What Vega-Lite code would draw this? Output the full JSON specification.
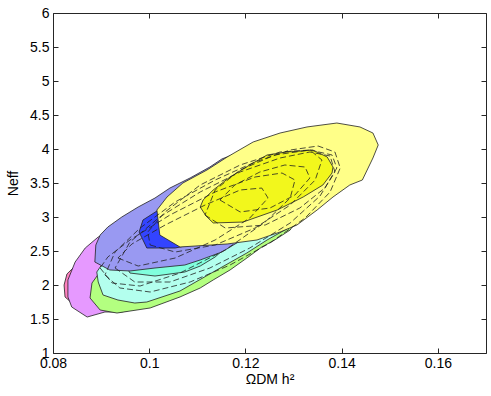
{
 "$schema": "https://vega.github.io/schema/vega-lite/v6.json",
 "width": 433, "height": 340,
 "autosize": {"type": "none"},
 "padding": {"left": 53, "top": 13, "right": 5, "bottom": 43},
 "config": {
  "view": {"stroke": "#262626", "strokeWidth": 1},
  "axis": {"grid": false, "domain": false, "tickColor": "#262626", "tickSize": -5, "labelFont": "Liberation Sans", "labelFontSize": 14, "labelColor": "#000", "titleFont": "Liberation Sans", "titleFontSize": 14, "titleFontWeight": "normal", "titleColor": "#000", "labelOverlap": false, "labelFlush": false}
 },
 "resolve": {"axis": {"x": "independent", "y": "independent"}},
 "datasets": {"p": [
  {"g":"R95","i":0,"x":0.0829,"y":2.162},{"g":"R95","i":1,"x":0.0823,"y":2.0},{"g":"R95","i":2,"x":0.0825,"y":1.824},{"g":"R95","i":3,"x":0.0837,"y":1.75},{"g":"R95","i":4,"x":0.0877,"y":1.779},{"g":"R95","i":5,"x":0.1002,"y":2.074},{"g":"R95","i":6,"x":0.1106,"y":2.441},{"g":"R95","i":7,"x":0.1147,"y":2.735},{"g":"R95","i":8,"x":0.1106,"y":2.882},{"g":"R95","i":9,"x":0.1002,"y":2.662},{"g":"R95","i":10,"x":0.0898,"y":2.441},{"g":"R95","i":11,"x":0.0846,"y":2.279},{"g":"R95","i":12,"x":0.0829,"y":2.162},
  {"g":"M95","i":0,"x":0.0894,"y":2.706},{"g":"M95","i":1,"x":0.0867,"y":2.544},{"g":"M95","i":2,"x":0.0846,"y":2.338},{"g":"M95","i":3,"x":0.0831,"y":2.074},{"g":"M95","i":4,"x":0.0831,"y":1.824},{"g":"M95","i":5,"x":0.0839,"y":1.676},{"g":"M95","i":6,"x":0.0871,"y":1.529},{"g":"M95","i":7,"x":0.0908,"y":1.603},{"g":"M95","i":8,"x":0.0943,"y":1.603},{"g":"M95","i":9,"x":0.0981,"y":1.662},{"g":"M95","i":10,"x":0.1106,"y":2.029},{"g":"M95","i":11,"x":0.1209,"y":2.515},{"g":"M95","i":12,"x":0.1293,"y":2.926},{"g":"M95","i":13,"x":0.1313,"y":3.25},{"g":"M95","i":14,"x":0.1293,"y":3.471},{"g":"M95","i":15,"x":0.1209,"y":3.397},{"g":"M95","i":16,"x":0.1106,"y":3.176},{"g":"M95","i":17,"x":0.1002,"y":2.956},{"g":"M95","i":18,"x":0.0939,"y":2.838},{"g":"M95","i":19,"x":0.0894,"y":2.706},
  {"g":"G95","i":0,"x":0.0881,"y":2.029},{"g":"G95","i":1,"x":0.0877,"y":1.809},{"g":"G95","i":2,"x":0.0898,"y":1.632},{"g":"G95","i":3,"x":0.0933,"y":1.588},{"g":"G95","i":4,"x":0.1002,"y":1.662},{"g":"G95","i":5,"x":0.1064,"y":1.824},{"g":"G95","i":6,"x":0.1106,"y":1.956},{"g":"G95","i":7,"x":0.1133,"y":2.074},{"g":"G95","i":8,"x":0.1168,"y":2.221},{"g":"G95","i":9,"x":0.1203,"y":2.397},{"g":"G95","i":10,"x":0.1234,"y":2.559},{"g":"G95","i":11,"x":0.1261,"y":2.662},{"g":"G95","i":12,"x":0.1293,"y":2.809},{"g":"G95","i":13,"x":0.1303,"y":2.926},{"g":"G95","i":14,"x":0.1324,"y":3.176},{"g":"G95","i":15,"x":0.1313,"y":3.471},{"g":"G95","i":16,"x":0.1251,"y":3.544},{"g":"G95","i":17,"x":0.1147,"y":3.324},{"g":"G95","i":18,"x":0.1043,"y":2.956},{"g":"G95","i":19,"x":0.096,"y":2.588},{"g":"G95","i":20,"x":0.0908,"y":2.294},{"g":"G95","i":21,"x":0.0881,"y":2.029},
  {"g":"C95","i":0,"x":0.0891,"y":2.191},{"g":"C95","i":1,"x":0.0894,"y":2.044},{"g":"C95","i":2,"x":0.0904,"y":1.853},{"g":"C95","i":3,"x":0.0935,"y":1.779},{"g":"C95","i":4,"x":0.097,"y":1.735},{"g":"C95","i":5,"x":0.0995,"y":1.75},{"g":"C95","i":6,"x":0.1064,"y":1.912},{"g":"C95","i":7,"x":0.1133,"y":2.191},{"g":"C95","i":8,"x":0.1203,"y":2.471},{"g":"C95","i":9,"x":0.1245,"y":2.662},{"g":"C95","i":10,"x":0.1293,"y":2.853},{"g":"C95","i":11,"x":0.1313,"y":3.103},{"g":"C95","i":12,"x":0.1313,"y":3.397},{"g":"C95","i":13,"x":0.1251,"y":3.5},{"g":"C95","i":14,"x":0.1147,"y":3.324},{"g":"C95","i":15,"x":0.1043,"y":3.029},{"g":"C95","i":16,"x":0.096,"y":2.662},{"g":"C95","i":17,"x":0.0908,"y":2.368},{"g":"C95","i":18,"x":0.0891,"y":2.191},
  {"g":"C68","i":0,"x":0.096,"y":2.176},{"g":"C68","i":1,"x":0.1012,"y":2.132},{"g":"C68","i":2,"x":0.1074,"y":2.191},{"g":"C68","i":3,"x":0.1106,"y":2.279},{"g":"C68","i":4,"x":0.1137,"y":2.412},{"g":"C68","i":5,"x":0.1158,"y":2.544},{"g":"C68","i":6,"x":0.1137,"y":2.882},{"g":"C68","i":7,"x":0.1054,"y":2.691},{"g":"C68","i":8,"x":0.0981,"y":2.397},{"g":"C68","i":9,"x":0.0954,"y":2.25},{"g":"C68","i":10,"x":0.096,"y":2.176},
  {"g":"B95","i":0,"x":0.0887,"y":2.338},{"g":"B95","i":1,"x":0.0889,"y":2.588},{"g":"B95","i":2,"x":0.0898,"y":2.735},{"g":"B95","i":3,"x":0.0914,"y":2.853},{"g":"B95","i":4,"x":0.0943,"y":3.0},{"g":"B95","i":5,"x":0.0977,"y":3.147},{"g":"B95","i":6,"x":0.1012,"y":3.279},{"g":"B95","i":7,"x":0.1043,"y":3.426},{"g":"B95","i":8,"x":0.1085,"y":3.574},{"g":"B95","i":9,"x":0.1126,"y":3.735},{"g":"B95","i":10,"x":0.1151,"y":3.853},{"g":"B95","i":11,"x":0.1209,"y":4.015},{"g":"B95","i":12,"x":0.1272,"y":4.132},{"g":"B95","i":13,"x":0.1334,"y":4.132},{"g":"B95","i":14,"x":0.1355,"y":3.838},{"g":"B95","i":15,"x":0.1334,"y":3.397},{"g":"B95","i":16,"x":0.1272,"y":3.029},{"g":"B95","i":17,"x":0.1209,"y":2.735},{"g":"B95","i":18,"x":0.1151,"y":2.485},{"g":"B95","i":19,"x":0.1106,"y":2.368},{"g":"B95","i":20,"x":0.1074,"y":2.294},{"g":"B95","i":21,"x":0.1012,"y":2.25},{"g":"B95","i":22,"x":0.096,"y":2.206},{"g":"B95","i":23,"x":0.0918,"y":2.221},{"g":"B95","i":24,"x":0.0887,"y":2.338},
  {"g":"B68","i":0,"x":0.1016,"y":3.088},{"g":"B68","i":1,"x":0.0987,"y":2.956},{"g":"B68","i":2,"x":0.0979,"y":2.779},{"g":"B68","i":3,"x":0.0995,"y":2.544},{"g":"B68","i":4,"x":0.1054,"y":2.544},{"g":"B68","i":5,"x":0.1106,"y":2.618},{"g":"B68","i":6,"x":0.1168,"y":2.882},{"g":"B68","i":7,"x":0.1189,"y":3.176},{"g":"B68","i":8,"x":0.1147,"y":3.324},{"g":"B68","i":9,"x":0.1085,"y":3.279},{"g":"B68","i":10,"x":0.1016,"y":3.088},
  {"g":"Y95","i":0,"x":0.1016,"y":3.103},{"g":"Y95","i":1,"x":0.1022,"y":2.735},{"g":"Y95","i":2,"x":0.1064,"y":2.559},{"g":"Y95","i":3,"x":0.1162,"y":2.603},{"g":"Y95","i":4,"x":0.1224,"y":2.662},{"g":"Y95","i":5,"x":0.1272,"y":2.779},{"g":"Y95","i":6,"x":0.1307,"y":2.882},{"g":"Y95","i":7,"x":0.1349,"y":3.103},{"g":"Y95","i":8,"x":0.1382,"y":3.294},{"g":"Y95","i":9,"x":0.1417,"y":3.471},{"g":"Y95","i":10,"x":0.1443,"y":3.544},{"g":"Y95","i":11,"x":0.1465,"y":3.868},{"g":"Y95","i":12,"x":0.1476,"y":4.059},{"g":"Y95","i":13,"x":0.1465,"y":4.235},{"g":"Y95","i":14,"x":0.1438,"y":4.324},{"g":"Y95","i":15,"x":0.139,"y":4.382},{"g":"Y95","i":16,"x":0.1328,"y":4.324},{"g":"Y95","i":17,"x":0.1272,"y":4.235},{"g":"Y95","i":18,"x":0.1216,"y":4.103},{"g":"Y95","i":19,"x":0.1162,"y":3.882},{"g":"Y95","i":20,"x":0.112,"y":3.691},{"g":"Y95","i":21,"x":0.107,"y":3.5},{"g":"Y95","i":22,"x":0.1037,"y":3.294},{"g":"Y95","i":23,"x":0.1016,"y":3.103},
  {"g":"Y68","i":0,"x":0.1106,"y":3.147},{"g":"Y68","i":1,"x":0.1118,"y":3.015},{"g":"Y68","i":2,"x":0.1133,"y":2.912},{"g":"Y68","i":3,"x":0.1195,"y":2.926},{"g":"Y68","i":4,"x":0.1266,"y":3.103},{"g":"Y68","i":5,"x":0.132,"y":3.294},{"g":"Y68","i":6,"x":0.1361,"y":3.471},{"g":"Y68","i":7,"x":0.138,"y":3.647},{"g":"Y68","i":8,"x":0.1382,"y":3.735},{"g":"Y68","i":9,"x":0.137,"y":3.882},{"g":"Y68","i":10,"x":0.134,"y":3.985},{"g":"Y68","i":11,"x":0.1286,"y":3.956},{"g":"Y68","i":12,"x":0.1245,"y":3.912},{"g":"Y68","i":13,"x":0.1209,"y":3.765},{"g":"Y68","i":14,"x":0.1168,"y":3.588},{"g":"Y68","i":15,"x":0.1133,"y":3.397},{"g":"Y68","i":16,"x":0.1112,"y":3.25},{"g":"Y68","i":17,"x":0.1106,"y":3.147},
  {"g":"D1","i":0,"x":0.0908,"y":2.147},{"g":"D1","i":1,"x":0.0939,"y":1.956},{"g":"D1","i":2,"x":0.1002,"y":1.897},{"g":"D1","i":3,"x":0.1085,"y":2.044},{"g":"D1","i":4,"x":0.1168,"y":2.294},{"g":"D1","i":5,"x":0.1251,"y":2.618},{"g":"D1","i":6,"x":0.1324,"y":2.985},{"g":"D1","i":7,"x":0.1376,"y":3.368},{"g":"D1","i":8,"x":0.1397,"y":3.721},{"g":"D1","i":9,"x":0.1386,"y":3.956},{"g":"D1","i":10,"x":0.1351,"y":4.044},{"g":"D1","i":11,"x":0.1293,"y":3.985},{"g":"D1","i":12,"x":0.122,"y":3.809},{"g":"D1","i":13,"x":0.1137,"y":3.544},{"g":"D1","i":14,"x":0.1054,"y":3.221},{"g":"D1","i":15,"x":0.0981,"y":2.838},{"g":"D1","i":16,"x":0.0929,"y":2.485},{"g":"D1","i":17,"x":0.0908,"y":2.147},
  {"g":"D2","i":0,"x":0.0929,"y":2.25},{"g":"D2","i":1,"x":0.097,"y":2.044},{"g":"D2","i":2,"x":0.1043,"y":2.044},{"g":"D2","i":3,"x":0.1126,"y":2.25},{"g":"D2","i":4,"x":0.1209,"y":2.544},{"g":"D2","i":5,"x":0.1293,"y":2.912},{"g":"D2","i":6,"x":0.1355,"y":3.309},{"g":"D2","i":7,"x":0.1386,"y":3.662},{"g":"D2","i":8,"x":0.1376,"y":3.897},{"g":"D2","i":9,"x":0.1334,"y":3.956},{"g":"D2","i":10,"x":0.1272,"y":3.868},{"g":"D2","i":11,"x":0.1189,"y":3.662},{"g":"D2","i":12,"x":0.1106,"y":3.368},{"g":"D2","i":13,"x":0.1022,"y":3.0},{"g":"D2","i":14,"x":0.096,"y":2.632},{"g":"D2","i":15,"x":0.0929,"y":2.25},
  {"g":"D3","i":0,"x":0.0898,"y":2.25},{"g":"D3","i":1,"x":0.0923,"y":2.029},{"g":"D3","i":2,"x":0.0981,"y":1.985},{"g":"D3","i":3,"x":0.1064,"y":2.176},{"g":"D3","i":4,"x":0.1158,"y":2.515},{"g":"D3","i":5,"x":0.1241,"y":2.926},{"g":"D3","i":6,"x":0.1293,"y":3.279},{"g":"D3","i":7,"x":0.1303,"y":3.544},{"g":"D3","i":8,"x":0.1276,"y":3.647},{"g":"D3","i":9,"x":0.122,"y":3.588},{"g":"D3","i":10,"x":0.1137,"y":3.368},{"g":"D3","i":11,"x":0.1043,"y":3.029},{"g":"D3","i":12,"x":0.096,"y":2.662},{"g":"D3","i":13,"x":0.0914,"y":2.412},{"g":"D3","i":14,"x":0.0898,"y":2.25},
  {"g":"D4","i":0,"x":0.0935,"y":2.397},{"g":"D4","i":1,"x":0.0977,"y":2.279},{"g":"D4","i":2,"x":0.1054,"y":2.397},{"g":"D4","i":3,"x":0.1137,"y":2.662},{"g":"D4","i":4,"x":0.1209,"y":2.985},{"g":"D4","i":5,"x":0.1247,"y":3.279},{"g":"D4","i":6,"x":0.1234,"y":3.426},{"g":"D4","i":7,"x":0.1189,"y":3.397},{"g":"D4","i":8,"x":0.1116,"y":3.176},{"g":"D4","i":9,"x":0.1033,"y":2.882},{"g":"D4","i":10,"x":0.0964,"y":2.603},{"g":"D4","i":11,"x":0.0935,"y":2.397},
  {"g":"D5","i":0,"x":0.1147,"y":3.25},{"g":"D5","i":1,"x":0.1189,"y":3.074},{"g":"D5","i":2,"x":0.1251,"y":3.132},{"g":"D5","i":3,"x":0.1303,"y":3.324},{"g":"D5","i":4,"x":0.1334,"y":3.574},{"g":"D5","i":5,"x":0.1324,"y":3.735},{"g":"D5","i":6,"x":0.1282,"y":3.765},{"g":"D5","i":7,"x":0.123,"y":3.662},{"g":"D5","i":8,"x":0.1178,"y":3.471},{"g":"D5","i":9,"x":0.1147,"y":3.25},
  {"g":"D6","i":0,"x":0.1116,"y":3.029},{"g":"D6","i":1,"x":0.1158,"y":2.838},{"g":"D6","i":2,"x":0.1241,"y":2.882},{"g":"D6","i":3,"x":0.1313,"y":3.132},{"g":"D6","i":4,"x":0.1365,"y":3.426},{"g":"D6","i":5,"x":0.139,"y":3.721},{"g":"D6","i":6,"x":0.138,"y":3.912},{"g":"D6","i":7,"x":0.1334,"y":3.985},{"g":"D6","i":8,"x":0.1261,"y":3.912},{"g":"D6","i":9,"x":0.1189,"y":3.691},{"g":"D6","i":10,"x":0.1137,"y":3.397},{"g":"D6","i":11,"x":0.1116,"y":3.029},
  {"g":"D7","i":0,"x":0.1002,"y":2.588},{"g":"D7","i":1,"x":0.1054,"y":2.485},{"g":"D7","i":2,"x":0.1137,"y":2.588},{"g":"D7","i":3,"x":0.122,"y":2.838},{"g":"D7","i":4,"x":0.1293,"y":3.176},{"g":"D7","i":5,"x":0.1345,"y":3.544},{"g":"D7","i":6,"x":0.1359,"y":3.838},{"g":"D7","i":7,"x":0.1334,"y":3.985},{"g":"D7","i":8,"x":0.1272,"y":3.956},{"g":"D7","i":9,"x":0.1189,"y":3.765},{"g":"D7","i":10,"x":0.1106,"y":3.471},{"g":"D7","i":11,"x":0.1033,"y":3.074},{"g":"D7","i":12,"x":0.0997,"y":2.779},{"g":"D7","i":13,"x":0.1002,"y":2.588}
 ]},
 "data": {"name": "p"},
 "encoding": {
  "x": {"field": "x", "type": "quantitative", "scale": {"domain": [0.08, 0.17], "nice": false, "zero": false}, "axis": null},
  "y": {"field": "y", "type": "quantitative", "scale": {"domain": [1, 6], "nice": false, "zero": false}, "axis": null},
  "order": {"field": "i", "type": "quantitative"}
 },
 "layer": [
  {"transform": [{"filter": "datum.g === 'R95'"}], "mark": {"type": "line", "fill": "#ff80bf", "stroke": "#222", "strokeWidth": 0.8},
   "encoding": {
    "x": {"field": "x", "type": "quantitative", "scale": {"domain": [0.08, 0.17], "nice": false, "zero": false}, "axis": {"orient": "bottom", "values": [0.08, 0.1, 0.12, 0.14, 0.16], "format": "~g", "title": "ΩDM h²", "labelPadding": 8, "titlePadding": 2}},
    "y": {"field": "y", "type": "quantitative", "scale": {"domain": [1, 6], "nice": false, "zero": false}, "axis": {"orient": "left", "values": [1, 1.5, 2, 2.5, 3, 3.5, 4, 4.5, 5, 5.5, 6], "format": "~g", "title": "Neff", "labelPadding": 9, "titlePadding": 9}}
   }},
  {"transform": [{"filter": "datum.g === 'M95'"}], "mark": {"type": "line", "fill": "#e699ff", "stroke": "#222", "strokeWidth": 0.8}},
  {"transform": [{"filter": "datum.g === 'G95'"}], "mark": {"type": "line", "fill": "#b3ff80", "stroke": "#222", "strokeWidth": 0.8}},
  {"transform": [{"filter": "datum.g === 'C95'"}], "mark": {"type": "line", "fill": "#b3ffee", "stroke": "#222", "strokeWidth": 0.8}},
  {"transform": [{"filter": "datum.g === 'C68'"}], "mark": {"type": "line", "fill": "#80ffdd", "stroke": "#222", "strokeWidth": 0.8}},
  {"transform": [{"filter": "datum.g === 'B95'"}], "mark": {"type": "line", "fill": "#9999f2", "stroke": "#222", "strokeWidth": 0.8}},
  {"transform": [{"filter": "datum.g === 'B68'"}], "mark": {"type": "line", "fill": "#3344ff", "stroke": "#222", "strokeWidth": 0.8}},
  {"transform": [{"filter": "datum.g === 'Y95'"}], "mark": {"type": "line", "fill": "#ffff88", "stroke": "#222", "strokeWidth": 0.8}},
  {"transform": [{"filter": "datum.g === 'Y68'"}], "mark": {"type": "line", "fill": "#f2f71c", "stroke": "#222", "strokeWidth": 0.8}},
  {"transform": [{"filter": "datum.g[0] === 'D'"}], "mark": {"type": "line", "stroke": "#222", "strokeWidth": 0.8, "strokeDash": [6, 3]},
   "encoding": {
    "detail": {"field": "g", "type": "nominal"},
    "x": {"field": "x", "type": "quantitative", "scale": {"domain": [0.08, 0.17], "nice": false, "zero": false}, "axis": {"orient": "top", "values": [0.08, 0.1, 0.12, 0.14, 0.16], "labels": false, "title": null}},
    "y": {"field": "y", "type": "quantitative", "scale": {"domain": [1, 6], "nice": false, "zero": false}, "axis": {"orient": "right", "values": [1, 1.5, 2, 2.5, 3, 3.5, 4, 4.5, 5, 5.5, 6], "labels": false, "title": null}}
   }}
 ]
}
